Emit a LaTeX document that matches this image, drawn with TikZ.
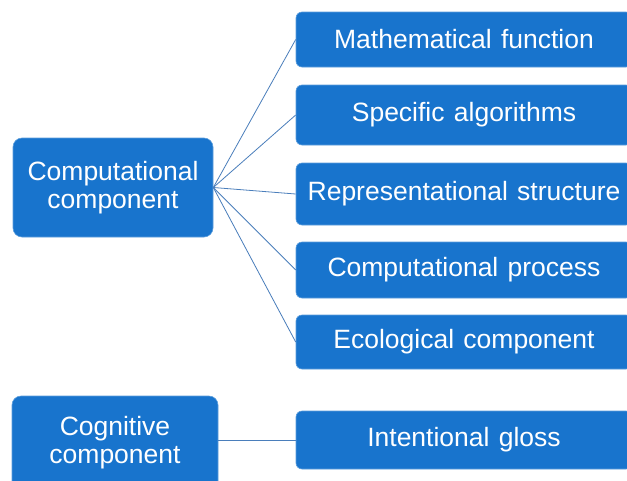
\documentclass[tikz,border=0pt]{standalone}
\usepackage{fontspec}
\setmainfont{Liberation Sans}
\definecolor{boxblue}{RGB}{24,116,205}
\definecolor{linkblue}{RGB}{74,126,187}
\begin{document}
\begin{tikzpicture}[x=1pt,y=-1pt,
  box/.style={fill=boxblue, draw=boxblue!70!white, line width=0.6pt, text=white, rounded corners=6pt,
    inner sep=0pt, align=center, font=\fontsize{26.5}{28}\selectfont},
  rbox/.style={box, minimum width=336pt},
  link/.style={draw=linkblue, line width=0.8pt}]
\useasboundingbox (0,0) rectangle (627,480);
\clip (0,0) rectangle (627,480);
\fill[white] (0,0) rectangle (627,480);
\node[box, rounded corners=9pt, minimum width=200pt, minimum height=99pt] (comp) at (113,187.5) {Computational\\component};
\node[box, rounded corners=9pt, minimum width=206pt, minimum height=94pt] (cog) at (115,443) {Cognitive\\component};
\node[rbox, minimum height=55pt] (math) at (464,39.5) {Mathematical\hspace{0.35em}function};
\node[rbox, minimum height=60pt] (alg) at (464,115) {Specific\hspace{0.35em}algorithms};
\node[rbox, minimum height=62pt] (rep) at (464,194) {Representational\hspace{0.35em}structure};
\node[rbox, minimum height=56pt] (proc) at (464,270) {Computational\hspace{0.35em}process};
\node[rbox, minimum height=54pt] (eco) at (464,342) {Ecological\hspace{0.35em}component};
\node[rbox, minimum height=58pt] (gloss) at (464,440) {Intentional\hspace{0.35em}gloss};
\foreach \t in {math,alg,rep,proc,eco}
  \draw[link] (comp.east) -- (\t.west);
\draw[link] (gloss.west) -- (gloss.west -| cog.east);
\end{tikzpicture}
\end{document}
